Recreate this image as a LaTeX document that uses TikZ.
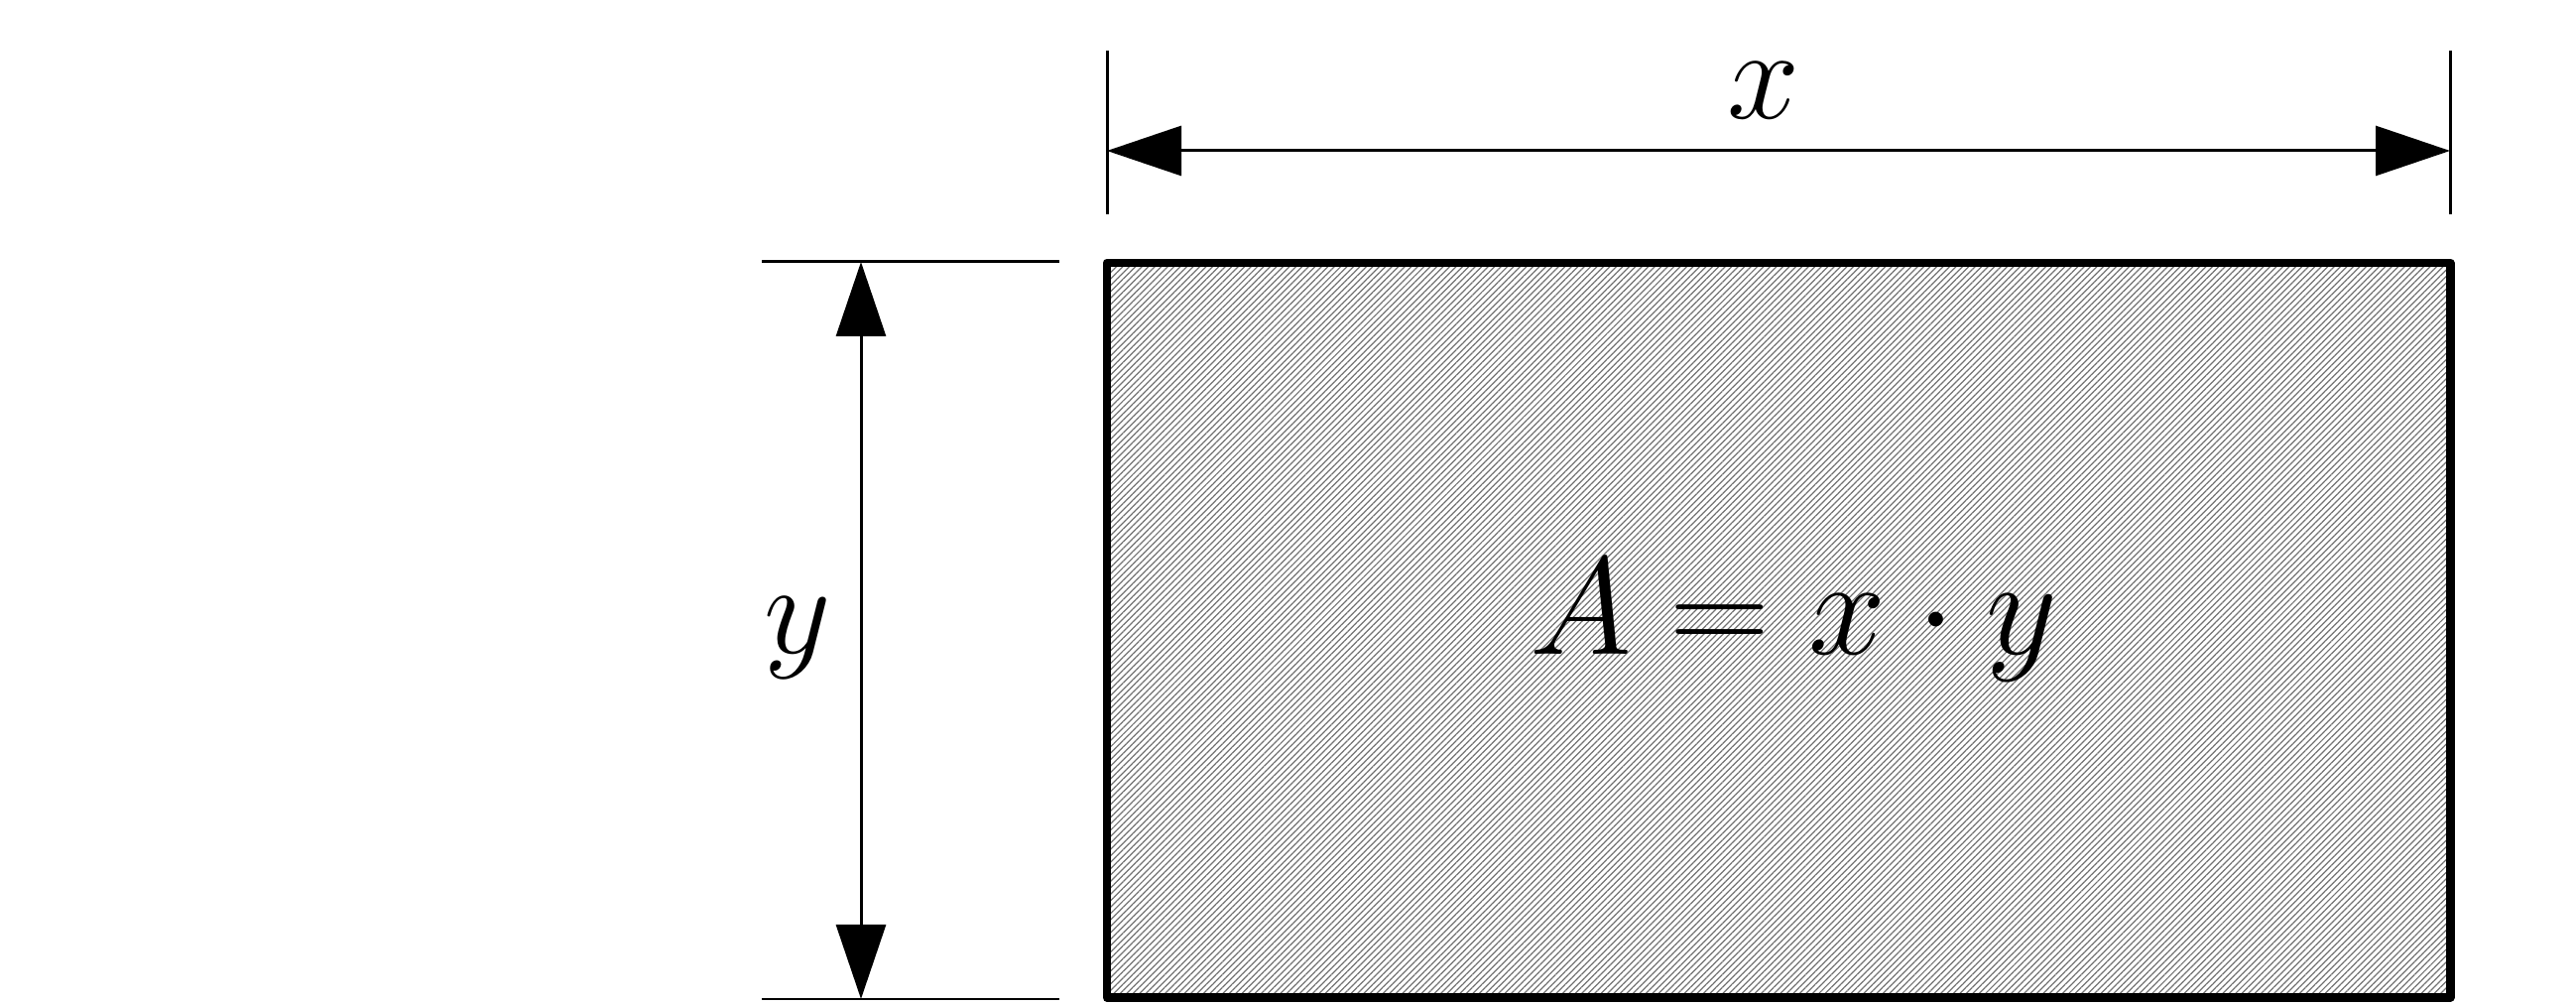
\documentclass[tikz,border=0pt]{standalone}
\usepackage{tikz}
\usetikzlibrary{arrows.meta,patterns.meta,positioning}

\tikzset{
	dimline/.style={line width=0.85pt, {Triangle[length=7.5mm,width=5mm]}-{Triangle[length=7.5mm,width=5mm]}},
	extline/.style={line width=0.85pt},
	dimlabel/.style={font=\fontsize{24.88}{30}\selectfont, scale=1.5, inner sep=0pt},
	arealabel/.style={font=\fontsize{24.88}{30}\selectfont, scale=1.6, inner sep=0pt}
}

\begin{document}
\begin{tikzpicture}
				\useasboundingbox (0,0) rectangle (25.97,10.13);
				
				\draw[line width=2.55pt, line join=round, pattern={Lines[angle=45,distance=1.3pt,line width=0.35pt]}, pattern color=black!55] (11.16,0.075) rectangle (24.70,7.48);
				
				\coordinate (xl) at (11.16,8.61);
				\coordinate (xr) at (24.70,8.61);
				\draw[extline] (11.16,9.62) -- (11.16,7.97);
				\draw[extline] (24.70,9.62) -- (24.70,7.97);
				\draw[dimline] (xl) -- node[dimlabel, above=3mm, xshift=-1mm] (xlab) {$x$} (xr);
				
				\coordinate (yt) at (8.68,7.49);
				\coordinate (yb) at (8.68,0.06);
				\draw[extline] (7.68,7.49) -- (10.68,7.49);
				\draw[extline] (7.68,0.06) -- (10.68,0.06);
				\draw[dimline] (yt) -- node[dimlabel, left=2.8mm, yshift=-0.5mm] (ylab) {$y$} (yb);
				
				\node[arealabel, anchor=base] (area) at (18.08,3.53) {$A = x \cdot y$};
			\end{tikzpicture}
\end{document}
